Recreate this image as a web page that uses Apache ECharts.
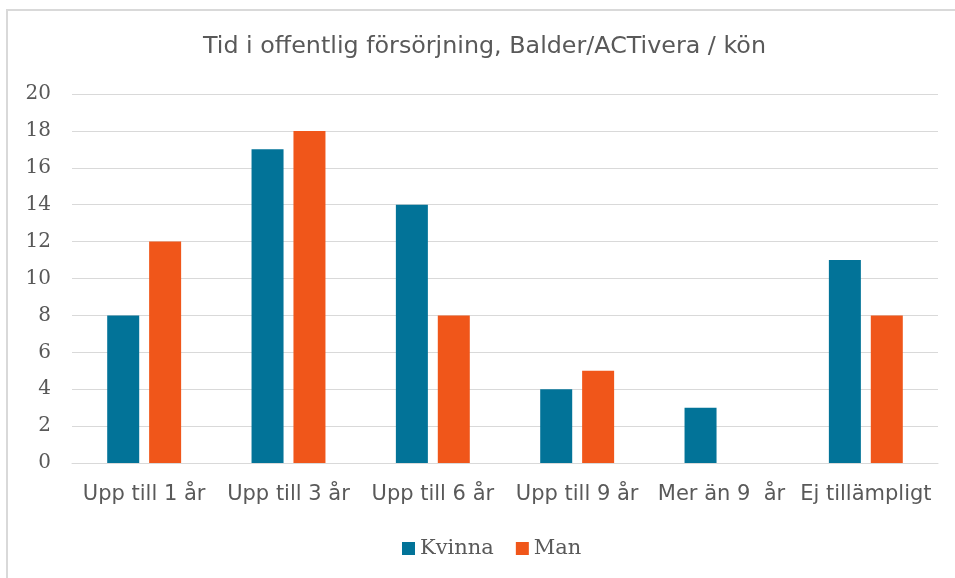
<!DOCTYPE html>
<html><head><meta charset="utf-8">
<script src="https://cdn.jsdelivr.net/npm/echarts@6/dist/echarts.min.js"></script>
<style>html,body{margin:0;padding:0;background:#fff}#c{width:955px;height:578px}</style>
</head><body><div id="c"></div>
<script>
const categories = ['Upp till 1 år','Upp till 3 år','Upp till 6 år','Upp till 9 år','Mer än 9  år','Ej tillämpligt'];
const kvinna = [8, 17, 14, 4, 3, 11];
const man = [12, 18, 8, 5, 0, 8];
const seriesNames = ['Kvinna', 'Man'];
const titleText = 'Tid i offentlig försörjning, Balder/ACTivera / kön';

const chart = echarts.init(document.getElementById('c'), null, {renderer:'canvas'});
chart.setOption({
  animation: false,
  backgroundColor: '#fff',
  graphic: [{
    type: 'rect', shape: {x: 7, y: 10, width: 1000, height: 620},
    style: {fill: 'none', stroke: '#d9d9d9', lineWidth: 2}, z: -1
  }],
  title: {
    text: titleText, left: 203, top: 35, padding: 0,
    textStyle: {fontFamily: 'DejaVu Sans', fontSize: 23.8, fontWeight: 'normal', color: '#595959'}
  },
  legend: {
    data: seriesNames, left: 402, top: 538, padding: 0, itemWidth: 13, itemHeight: 13, itemGap: 22,
    icon: 'rect',
    textStyle: {fontFamily: 'DejaVu Serif', fontSize: 21, color: '#595959', padding: [0,0,0,0]}
  },
  grid: {left: 72, right: 17, top: 94, bottom: 115},
  xAxis: {
    type: 'category', data: categories,
    axisLine: {lineStyle: {color: '#d9d9d9', width: 1}},
    axisTick: {show: false},
    axisLabel: {fontFamily: 'DejaVu Sans', fontSize: 21, color: '#595959', margin: 21, interval: 0}
  },
  yAxis: {
    type: 'value', min: 0, max: 20, interval: 2,
    axisLine: {show: false}, axisTick: {show: false},
    splitLine: {lineStyle: {color: '#d9d9d9', width: 1}},
    axisLabel: {fontFamily: 'DejaVu Serif', fontSize: 20, color: '#595959', margin: 21}
  },
  series: [
    {name: seriesNames[0], type: 'bar', data: kvinna, barWidth: 32, barGap: '31%', itemStyle: {color: '#027398'}},
    {name: seriesNames[1], type: 'bar', data: man, barWidth: 32, itemStyle: {color: '#F0561A'}}
  ]
});
</script></body></html>
